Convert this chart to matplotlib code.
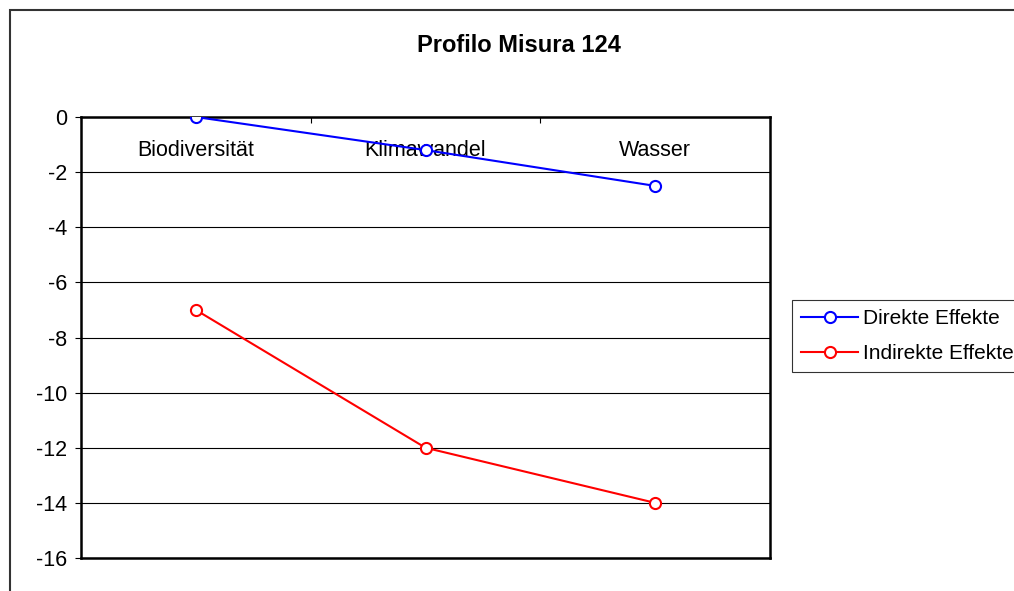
import matplotlib.pyplot as plt
from matplotlib.patches import Rectangle

plt.rcParams['font.family'] = ['Liberation Sans', 'DejaVu Sans']
plt.rcParams['axes.unicode_minus'] = False

categorie = ['Biodiversität', 'Klimawandel', 'Wasser']
direkte = [0, -1.2, -2.5]
indirekte = [-7, -12, -14]
y_ticks = [0, -2, -4, -6, -8, -10, -12, -14, -16]

fig = plt.figure(figsize=(10.14, 5.91), dpi=100)
ax = fig.add_axes([81 / 1014, 1 - 558 / 591, 689 / 1014, 441 / 591])

# cornice esterna del grafico
fig.patches.append(Rectangle((9.5 / 1014, -0.1), 1.2, 1 - 9.5 / 591 + 0.1,
                             transform=fig.transFigure, fill=False,
                             edgecolor='#333333', linewidth=1.5, clip_on=False))

x = range(len(categorie))
ax.plot(x, direkte, color='#0000ff', lw=1.5, marker='o', ms=8, mfc='white',
        mec='#0000ff', mew=1.5, label='Direkte Effekte', zorder=4)
ax.plot(x, indirekte, color='#ff0000', lw=1.5, marker='o', ms=8, mfc='white',
        mec='#ff0000', mew=1.5, label='Indirekte Effekte', zorder=4)

ax.set_xlim(-0.5, 2.5)
ax.set_ylim(-16, 0)
ax.set_yticks(y_ticks)
ax.yaxis.grid(True, color='black', linewidth=0.8)
ax.set_axisbelow(True)
ax.tick_params(axis='y', length=4, width=0.8, pad=6, labelsize=15.5)

# asse delle categorie in alto (incrocia a 0), etichette sotto la linea
ax.xaxis.tick_top()
ax.set_xticks(list(x))
ax.set_xticklabels(categorie)
ax.set_xticks([-0.5, 0.5, 1.5, 2.5], minor=True)
ax.tick_params(axis='x', which='major', length=0, pad=-32, labelsize=15.5)
ax.tick_params(axis='x', which='minor', direction='in', length=4, width=0.8, top=True)
for s in ax.spines.values():
    s.set_linewidth(1.8)
    s.set_color('black')

fig.text(519 / 1014, 1 - 46 / 591, 'Profilo Misura 124', ha='center', va='center',
         fontsize=17, fontweight='bold')

leg = fig.legend(loc='upper left', bbox_to_anchor=(792 / 1014, 1 - 300 / 591),
                 fontsize=15, frameon=True, fancybox=False, handlelength=2.7,
                 handletextpad=0.25, borderpad=0.45, labelspacing=0.75,
                 borderaxespad=0)
leg.get_frame().set_edgecolor('black')
leg.get_frame().set_linewidth(0.8)

fig.savefig('out.png', dpi=100)
